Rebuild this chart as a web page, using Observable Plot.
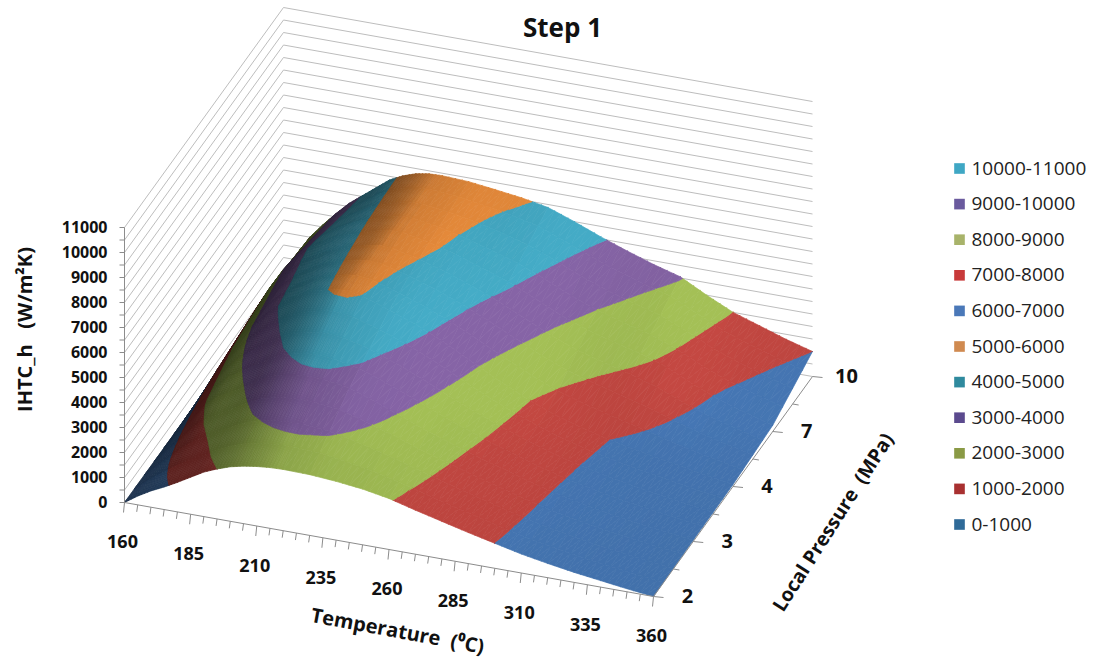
<!DOCTYPE html>
<html>
<head>
<meta charset="utf-8">
<style>html,body{margin:0;padding:0;background:#fff}svg{display:block}</style>
<script src="https://cdn.jsdelivr.net/npm/d3@7"></script>
<script src="https://cdn.jsdelivr.net/npm/@observablehq/plot@0.6"></script>
</head>
<body>
<div id="chart"></div>
<script>
const temperatures = [160,165,170,175,180,185,190,195,200,205,210,215,220,230,240,250,260,270,280,290,300,310,320,330,340,350,360];
const pressures = [2,3,4,7,10];
const ihtcP2  = [0,350,650,900,1180,1480,1780,2000,2180,2300,2380,2430,2450,2430,2350,2230,2040,1760,1500,1240,1000,760,570,400,260,120,0];
const ihtcP3  = [0,650,1250,1950,2400,2680,2980,3300,3600,3750,3845,3870,3860,3700,3320,2920,2500,2150,1800,1500,1180,900,680,480,320,180,50];
const ihtcP4  = [0,1000,1850,2600,3200,3720,4150,4500,4780,4950,5070,5090,4980,4620,4230,3760,3210,2650,2150,1700,1360,1080,840,640,450,250,80];
const ihtcP7  = [0,1300,2200,3000,3600,4080,4400,4680,4870,5030,5200,5330,5340,5130,4840,4480,4110,3640,3150,2750,2450,2170,1820,1320,880,560,250];
const ihtcP10 = [0,1050,2000,2600,3150,3650,4050,4450,4850,5110,5290,5380,5400,5350,5220,5080,4880,4500,4080,3700,3350,3050,2500,2000,1650,1300,1000];
const ihtcRows = [ihtcP2,ihtcP3,ihtcP4,ihtcP7,ihtcP10];

const bandLow = [0,1000,2000,3000,4000,5000];
const bandColors = ["#4474b0","#bc453f","#9db852","#80609f","#42a5bf","#e4893a"];

const legendLabels = ["10000-11000","9000-10000","8000-9000","7000-8000","6000-7000","5000-6000","4000-5000","3000-4000","2000-3000","1000-2000","0-1000"];
const legendColors = ["#3fa7c4","#6a5a9e","#a8b36a","#c83a3a","#4a78b8","#d08a50","#2f8a9e","#5b4a8e","#8a9a45","#a83030","#2f6a98"];

const zTicks = d3.range(0,11001,500);
const zLabels = d3.range(0,11001,1000);
const tLabels = [160,185,210,235,260,285,310,335,360];
const tMinor = d3.range(160,361,5);

// oblique projection of the chart's box: T, pressure row and IHTC to page position
const O = [124,502], TV = [529,94], PV = [159,-220], ZPX = 12.5/500;
const tn = T => (T-160)/200;
const px = (T,r) => O[0]+TV[0]*tn(T)+PV[0]*r/4;
const py = (T,r,z=0) => O[1]+TV[1]*tn(T)+PV[1]*r/4-z*ZPX;

function clip(poly, lo, hi){
  const cut = (pts, keep, level) => {
    const out=[];
    for(let i=0;i<pts.length;i++){
      const a=pts[i], b=pts[(i+1)%pts.length];
      const ka=keep(a[2]), kb=keep(b[2]);
      if(ka) out.push(a);
      if(ka!==kb){
        const f=(level-a[2])/(b[2]-a[2]);
        out.push([a[0]+f*(b[0]-a[0]),a[1]+f*(b[1]-a[1]),level]);
      }
    }
    return out;
  };
  let p=cut(poly,z=>z>=lo,lo);
  if(p.length) p=cut(p,z=>z<=hi,hi);
  return p;
}
// lighting: steep rising flanks are dark, the falling side is bright
function shade(c,s,T){
  let f = s>=0 ? 0.97-0.62*(1-Math.exp(-s/60)) : 0.945+Math.min(0.1,-s*0.0022);
  f *= Math.max(0.86,Math.min(1,0.86+0.14*(T-200)/35));
  const k=d3.rgb(c);
  return d3.rgb(Math.min(255,k.r*f),Math.min(255,k.g*f),Math.min(255,k.b*f)).formatHex();
}
// T slope at each grid node, for the surface's lighting
const slopes=ihtcRows.map(row=>row.map((z,i)=>{
  const a=Math.max(0,i-1),b=Math.min(row.length-1,i+1);
  return (row[b]-row[a])/(temperatures[b]-temperatures[a]);
}));
const verts=[]; let pid=0;
const SUB=4;
const lerp=(a,b,f)=>a+(b-a)*f;
for(let r=pressures.length-2;r>=0;r--){
  for(let sv=SUB-1;sv>=0;sv--){
    for(let i=0;i<temperatures.length-1;i++){
      const dT=temperatures[i+1]-temperatures[i];
      const cellB=(ihtcRows[r][i+1]-ihtcRows[r][i])/dT, cellT=(ihtcRows[r+1][i+1]-ihtcRows[r+1][i])/dT;
      for(let su=0;su<SUB;su++){
        const node=(fu,fv)=>{
          const zb=lerp(ihtcRows[r][i],ihtcRows[r][i+1],fu), zt=lerp(ihtcRows[r+1][i],ihtcRows[r+1][i+1],fu);
          return [lerp(temperatures[i],temperatures[i+1],fu),r+fv,lerp(zb,zt,fv)];
        };
        const u0=su/SUB,u1=(su+1)/SUB,v0=sv/SUB,v1=(sv+1)/SUB;
        const a=node(u0,v0),b=node(u1,v0),c=node(u1,v1),d=node(u0,v1);
        const um=(u0+u1)/2,vm=(v0+v1)/2;
        let slope=lerp(lerp(slopes[r][i],slopes[r][i+1],um),lerp(slopes[r+1][i],slopes[r+1][i+1],um),vm);
        if(slope<0) slope=0.4*slope+0.6*lerp(cellB,cellT,vm);
        const Tm=lerp(temperatures[i],temperatures[i+1],um);
        for(const tri of [[d,c,a],[c,b,a]]){
          bandLow.forEach((lo,bi)=>{
            const pg=clip(tri,lo,lo+1000);
            if(pg.length<3) return;
            const fill=shade(bandColors[bi],slope,Tm);
            const id=pid++;
            [...pg,pg[0]].forEach(v=>verts.push({id,fill,x:px(v[0],v[1]),y:py(v[0],v[1],v[2])}));
          });
        }
      }
    }
  }
}
const grid="#bdbdbd", axisC="#8c8c8c";
const FONT="'Open Sans'";
const plot=Plot.plot({
  width:1096,height:660,margin:0,
  style:{background:"#fff",fontFamily:FONT},
  x:{domain:[0,1096],range:[0,1096],axis:null},
  y:{domain:[0,660],range:[0,660],axis:null},
  marks:[
    // walls
    Plot.link(zTicks,{x1:()=>px(160,0),y1:z=>py(160,0,z),x2:()=>px(160,4),y2:z=>py(160,4,z),stroke:grid,strokeWidth:1}),
    Plot.link(zTicks,{x1:()=>px(160,4),y1:z=>py(160,4,z),x2:()=>px(360,4),y2:z=>py(360,4,z),stroke:grid,strokeWidth:1}),
    // surface
    Plot.line(verts,{x:"x",y:"y",z:"id",fill:"fill",stroke:"fill",strokeWidth:0.7,curve:"linear"}),
    // z axis
    Plot.link([0],{x1:()=>px(160,0),y1:()=>py(160,0,0),x2:()=>px(160,0),y2:()=>py(160,0,11000),stroke:axisC}),
    Plot.link(zTicks,{x1:()=>px(160,0)-5,y1:z=>py(160,0,z),x2:()=>px(160,0),y2:z=>py(160,0,z),stroke:axisC}),
    Plot.text(zLabels,{x:()=>107,y:z=>py(160,0,z),text:d=>String(d),textAnchor:"end",fontSize:16,fontWeight:"bold",fill:"#111"}),
    // temperature axis
    Plot.link([0],{x1:()=>px(160,0),y1:()=>py(160,0),x2:()=>px(360,0),y2:()=>py(360,0),stroke:axisC}),
    Plot.link(tMinor,{x1:T=>px(T,0),y1:T=>py(T,0),x2:T=>px(T,0)-1,y2:T=>py(T,0)+(tLabels.includes(T)?10:7),stroke:axisC}),
    Plot.text(tLabels,{x:T=>px(T,0)-2,y:T=>py(T,0),dy:40,text:d=>String(d),fontSize:18,fontWeight:"bold",fill:"#111"}),
    // pressure axis
    Plot.link([0],{x1:()=>px(360,0),y1:()=>py(360,0),x2:()=>px(360,4),y2:()=>py(360,4),stroke:axisC}),
    Plot.link(d3.range(0,4.01,0.5),{x1:r=>px(360,r),y1:r=>py(360,r),x2:r=>px(360,r)+(r%1===0?10:6),y2:r=>py(360,r)+1,stroke:axisC}),
    Plot.text(pressures,{x:(d,i)=>px(360,i),y:(d,i)=>py(360,i),dx:34,text:d=>String(d),fontSize:20,fontWeight:"bold",fill:"#111"}),
    // axis titles
    Plot.text(["Step 1"],{x:()=>562,y:()=>28,text:d=>d,fontSize:26,fontWeight:"bold",fill:"#111"}),
    Plot.text(["IHTC_h   (W/m²K)"],{x:()=>25,y:()=>329,text:d=>d,rotate:-90,fontSize:20,fontWeight:"bold",fill:"#111"}),
    Plot.text(["Temperature  (⁰C)"],{x:()=>397,y:()=>631,text:d=>d,rotate:10.5,fontSize:20,fontWeight:"bold",fill:"#111"}),
    Plot.text(["Local Pressure  (MPa)"],{x:()=>833,y:()=>522,text:d=>d,rotate:-57.5,fontSize:19.5,fontWeight:"bold",fill:"#111"}),
    // legend
    Plot.dot(legendLabels,{x:()=>959,y:(d,i)=>168+i*35.6,symbol:"square",r:6,fill:(d,i)=>legendColors[i],stroke:"none"}),
    Plot.text(legendLabels,{x:()=>971,y:(d,i)=>168+i*35.6,text:d=>d,textAnchor:"start",fontSize:19,fill:"#222"})
  ]
});
document.getElementById("chart").append(plot);
</script>
</body>
</html>
